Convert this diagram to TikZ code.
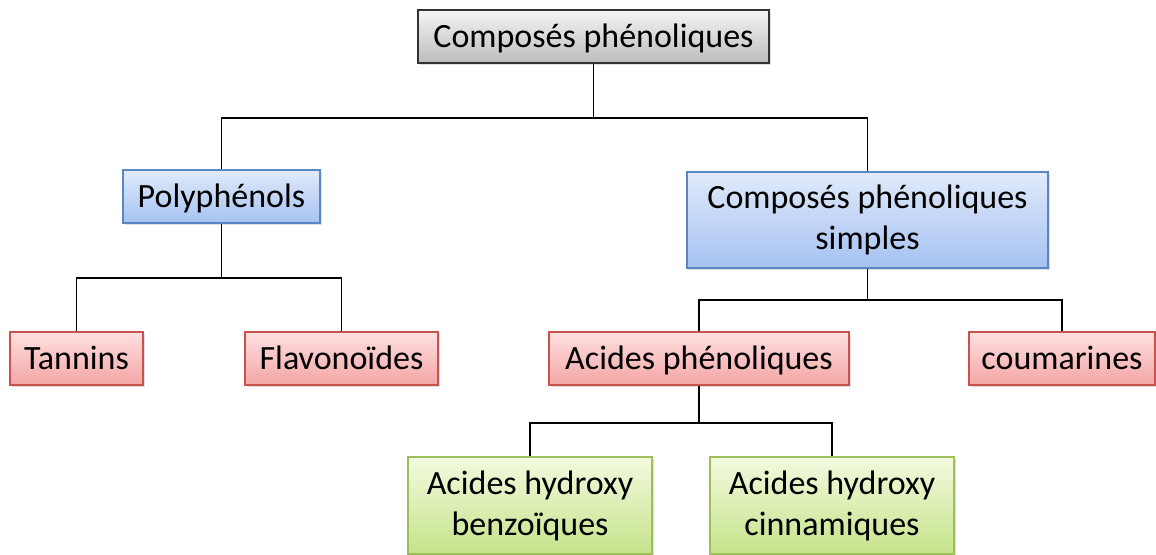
\documentclass[tikz,border=0pt]{standalone}
\usepackage{fontspec}
\setmainfont{Carlito}
\usetikzlibrary{shadows}
\definecolor{greytop}{HTML}{F4F4F4}
\definecolor{greybot}{HTML}{BDBDBD}
\definecolor{bluetop}{HTML}{E1EAFA}
\definecolor{bluebot}{HTML}{A5C2F2}
\definecolor{blueline}{HTML}{5B86C4}
\definecolor{redtop}{HTML}{FFE0E0}
\definecolor{redbot}{HTML}{F3A5A5}
\definecolor{redline}{HTML}{C9524E}
\definecolor{greentop}{HTML}{F3FADF}
\definecolor{greenbot}{HTML}{C5E38A}
\definecolor{greenline}{HTML}{9CBF5A}

\begin{document}
\begin{tikzpicture}[x=0.5pt, y=-0.5pt,
  font=\fontsize{17}{20.5}\selectfont,
  box/.style={draw, align=center, inner sep=2pt, line width=0.6pt,
    drop shadow={opacity=0.25, shadow xshift=1.2pt, shadow yshift=-1.2pt}},
  oneline/.style={text height=12.5pt, text depth=1pt, minimum height=26.5pt},
  rootbox/.style={box, oneline, draw=black!80, top color=greytop, bottom color=greybot,
    minimum width=175.5pt},
  classbox/.style={box, draw=blueline, top color=bluetop, bottom color=bluebot},
  familybox/.style={box, oneline, draw=redline, top color=redtop, bottom color=redbot},
  acidbox/.style={box, draw=greenline, top color=greentop, bottom color=greenbot,
    minimum width=122pt, minimum height=48.5pt},
  link/.style={line width=0.75pt}]

  \useasboundingbox (0,0) rectangle (1156,555);

  % ---- root ----
  \node[rootbox] (root) at (593.5,36.5) {Composés phénoliques};

  % ---- level 2 ----
  \node[classbox, oneline, minimum width=98.5pt] (poly) at (221.5,196.5)
    {Polyphénols};
  \node[classbox, minimum width=180.5pt, minimum height=48pt] (simple) at (867.5,220)
    {Composés phénoliques\\simples};

  \coordinate (j1) at (593.5,118);
  \draw[link] (root.south) -- (j1);
  \draw[link] (j1) -| (poly.north);
  \draw[link] (j1) -| (simple.north);

  % ---- level 3 ----
  \node[familybox, minimum width=66.5pt] (tannin) at (76.5,358.5) {Tannins};
  \node[familybox, minimum width=96.5pt] (flavo) at (341.5,358.5) {Flavonoïdes};
  \node[familybox, minimum width=150pt] (acid) at (699,358.5) {Acides phénoliques};
  \node[familybox, minimum width=93pt] (couma) at (1062,358.5) {coumarines};

  \coordinate (j2) at (221.5,278);
  \draw[link] (poly.south) -- (j2);
  \draw[link] (j2) -| (tannin.north);
  \draw[link] (j2) -| (flavo.north);

  \coordinate (j3) at (867.5,300);
  \draw[link] (simple.south) -- (j3);
  \draw[link] (j3) -| (acid.north);
  \draw[link] (j3) -| (couma.north);

  % ---- level 4: the two hydroxy acids ----
  \node[acidbox] (benzo) at (530,505.5) {Acides hydroxy\\benzoïques};
  \node[acidbox] (cinna) at (832,505.5) {Acides hydroxy\\cinnamiques};

  \coordinate (j4) at (699,423);
  \draw[link] (acid.south) -- (j4);
  \draw[link] (j4) -| (benzo.north);
  \draw[link] (j4) -| (cinna.north);

\end{tikzpicture}
\end{document}
